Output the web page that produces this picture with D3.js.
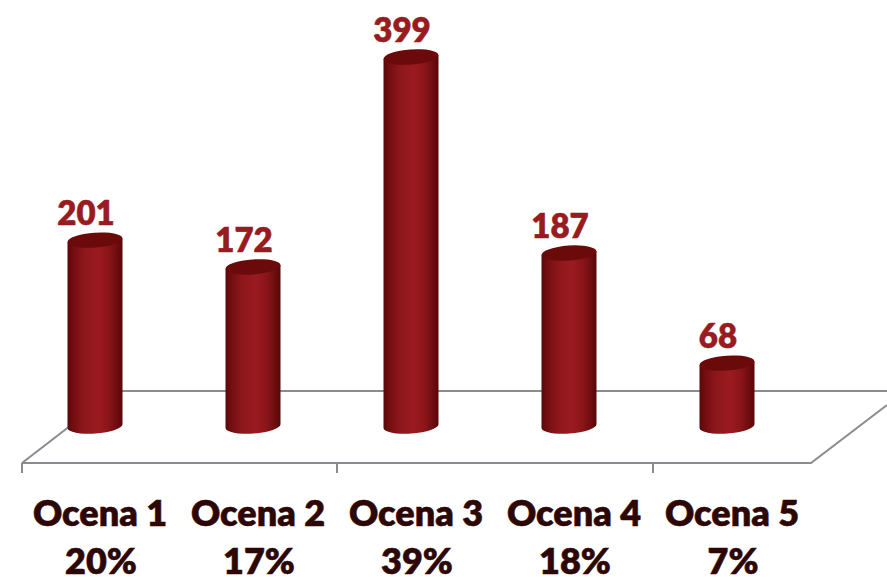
<!DOCTYPE html>
<html><head><meta charset="utf-8">
<script src="https://cdn.jsdelivr.net/npm/d3@7/dist/d3.min.js"></script>
<style>html,body{margin:0;padding:0;background:#fff;overflow:hidden}svg{display:block}text{font-family:Lato,Carlito,sans-serif;font-weight:800}</style>
</head><body><div id="c"></div>
<script>
const categories = ["Ocena 1","Ocena 2","Ocena 3","Ocena 4","Ocena 5"];
const values = [201,172,399,187,68];
const percents = ["20%","17%","39%","18%","7%"];
const W=887,H=577;
const svg=d3.select("#c").append("svg").attr("width",W).attr("height",H);
const x=d3.scaleBand().domain(categories).range([22,812]).padding(0);
const y=d3.scaleLinear().domain([0,399]).range([426,57]);
const grad=svg.append("defs").append("linearGradient").attr("id","cyl");
[[0,"#5a080a"],[.1,"#730d10"],[.3,"#8d171b"],[.55,"#9b1a20"],[.75,"#8a1519"],[.92,"#6a0b0e"],[1,"#560608"]]
 .forEach(([o,c])=>grad.append("stop").attr("offset",o).attr("stop-color",c));
const floorColor="#8b8b90";
const floor=svg.append("g").attr("fill","none").attr("stroke",floorColor).attr("stroke-width",2);
const flo=x.range()[0], fhi=x.range()[1], yBack=391, yFront=463;
floor.append("path").attr("d",`M${flo},${yFront}L${fhi-1},${yFront}L${W},${yFront-58}`);
floor.append("path").attr("d",`M${flo},${yFront}L${flo+48},${yFront-37}`);
floor.append("line").attr("x1",x(categories[0])+60).attr("x2",W).attr("y1",yBack).attr("y2",yBack);
[0,2,4].forEach(i=>floor.append("line").attr("x1",x(categories[i])-(i?1:0)).attr("x2",x(categories[i])-(i?1:0)).attr("y1",yFront).attr("y2",yFront+10));
const rx=27.5, ry=7.5, tilt=-4, dy=rx*Math.sin(tilt*Math.PI/180);
const barCenter=c=>x(c)+x.bandwidth()/2-6;
const bars=svg.append("g").selectAll("g").data(values).join("g")
 .attr("transform",(d,i)=>`translate(${barCenter(categories[i])},0)`);
bars.append("path").attr("fill","url(#cyl)").attr("d",d=>{
  const t=y(d), b=y(0);
  return `M${-rx},${t-dy}L${rx},${t+dy}L${rx},${b+dy}A${rx},${ry} ${tilt} 0 1 ${-rx},${b-dy}Z`;
});
bars.append("ellipse").attr("rx",rx).attr("ry",ry).attr("fill","#6a0a0b")
 .attr("transform",d=>`translate(0,${y(d)}) rotate(${tilt})`);
bars.append("text").attr("text-anchor","middle").attr("x",-9).attr("y",d=>y(d)-15).attr("font-size",33).attr("fill","#971b20").attr("stroke","#971b20").attr("stroke-width",0.5).text(d=>d);
const labels=svg.append("g").attr("fill","#2d0606").attr("stroke","#2d0606").attr("stroke-width",0.5).attr("font-size",36).attr("text-anchor","middle");
categories.forEach((c,i)=>{
  const cx=barCenter(c)+5;
  labels.append("text").attr("x",cx).attr("y",526).text(c);
  labels.append("text").attr("x",cx+1).attr("y",574).text(percents[i]);
});
</script></body></html>
